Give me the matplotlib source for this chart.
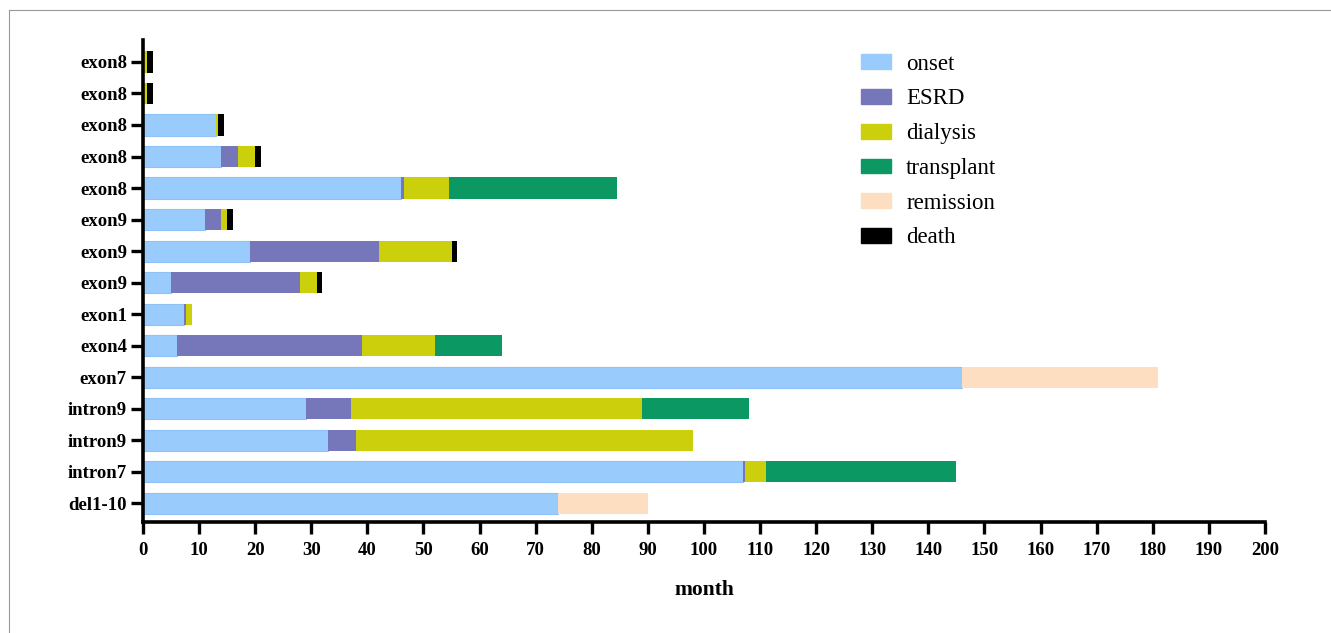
import numpy as np
import matplotlib.pyplot as plt
from matplotlib.patches import Patch
from matplotlib.lines import Line2D

# rows from bottom to top
genes = ["del1-10", "intron7", "intron9", "intron9", "exon7", "exon4", "exon1",
         "exon9", "exon9", "exon9", "exon8", "exon8", "exon8", "exon8", "exon8"]

# duration of each phase (months), same row order as genes
onset      = [74, 107, 33, 29, 146, 6, 7.3, 5, 19, 11, 46, 14, 13, 0, 0]
esrd       = [0, 0.4, 5, 8, 0, 33, 0.4, 23, 23, 3, 0.5, 3, 0, 0, 0]
dialysis   = [0, 3.6, 60, 52, 0, 13, 1, 3, 13, 1, 8, 3, 0.3, 0.8, 0.8]
transplant = [0, 34, 0, 19, 0, 12, 0, 0, 0, 0, 30, 0, 0, 0, 0]
remission  = [16, 0, 0, 0, 35, 0, 0, 0, 0, 0, 0, 0, 0, 0, 0]
death      = [0, 0, 0, 0, 0, 0, 0, 1, 1, 1, 0, 1, 1.2, 1, 1]

phases = ["onset", "ESRD", "dialysis", "transplant", "remission", "death"]
colors = ["#99CBFD", "#7676BA", "#CCCF0C", "#0B9862", "#FDDEC1", "#000000"]

plt.rcParams['font.family'] = ['Liberation Serif', 'DejaVu Serif']

fig = plt.figure(figsize=(13.31, 6.33), dpi=100)
ax = fig.add_axes([0.1074, 0.175, 0.843, 0.762])

y = np.arange(len(genes))
left = np.zeros(len(genes))
for name, vals, col in zip(phases, [onset, esrd, dialysis, transplant, remission, death], colors):
    vals = np.array(vals, dtype=float)
    keep = vals > 0
    if name == "onset":
        ax.barh(y[keep], vals[keep], left=left[keep], height=0.67, color=col,
                edgecolor="#8EC2F6", linewidth=0.8)
    else:
        ax.barh(y[keep], vals[keep], left=left[keep], height=0.67, color=col,
                linewidth=0)
    left += vals

ax.set_xlim(0, 200)
ax.set_ylim(-0.6, 14.7)
ax.set_xticks(np.arange(0, 201, 10))
ax.set_yticks(y)
ax.set_yticklabels(genes)
for s in ["top", "right"]:
    ax.spines[s].set_visible(False)
for s in ["left", "bottom"]:
    ax.spines[s].set_linewidth(2.6)
ax.tick_params(axis="both", direction="out", length=8.5, width=2.4, labelsize=13.5)
ax.tick_params(axis="x", pad=6)
ax.tick_params(axis="y", pad=3)
for lab in ax.get_xticklabels() + ax.get_yticklabels():
    lab.set_fontweight("bold")

ax.set_xlabel("month", fontsize=15.5, fontweight="bold", labelpad=15)

handles = [Patch(facecolor=c, edgecolor=c) for c in colors]
leg = ax.legend(handles, phases, loc="upper left", bbox_to_anchor=(0.630, 0.995),
                frameon=False, fontsize=16.5, handlelength=1.31, handleheight=0.61,
                labelspacing=0.6, handletextpad=0.65, borderpad=0)

# thin frame lines at the top and left edge of the picture
fig.add_artist(Line2D([9 / 1331, 1], [1 - 10 / 633, 1 - 10 / 633], color="#999999", lw=0.8))
fig.add_artist(Line2D([9 / 1331, 9 / 1331], [0, 1 - 10 / 633], color="#999999", lw=0.8))

fig.savefig("out.png", dpi=100)
